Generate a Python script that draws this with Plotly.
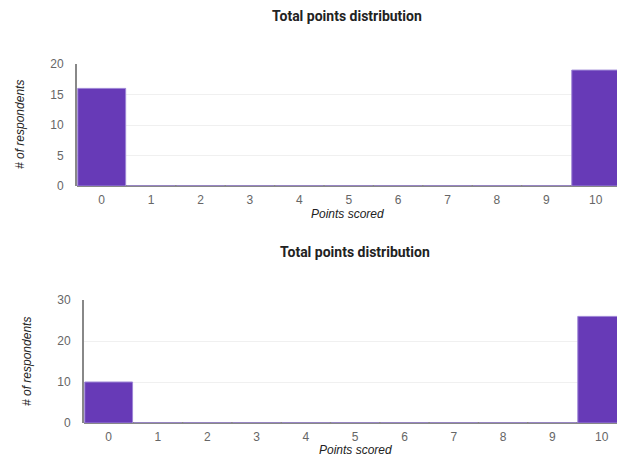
import plotly.graph_objects as go

categories = ["0", "1", "2", "3", "4", "5", "6", "7", "8", "9", "10"]
top_values = [16, 0, 0, 0, 0, 0, 0, 0, 0, 0, 19]
bottom_values = [10, 0, 0, 0, 0, 0, 0, 0, 0, 0, 26]
chart_title = "Total points distribution"
x_title = "Points scored"
y_title = "# of respondents"

W, H = 617, 456
PURPLE = "#673AB7"

def py(y):
    return 1 - y / H

fig = go.Figure()
xs = list(range(len(categories)))
fig.add_trace(go.Bar(x=xs, y=top_values, xaxis="x", yaxis="y",
                     marker=dict(color=PURPLE, line=dict(color="#9d85d6", width=1)),
                     width=0.97, hoverinfo="x+y", showlegend=False))
fig.add_trace(go.Bar(x=xs, y=bottom_values, xaxis="x2", yaxis="y2",
                     marker=dict(color=PURPLE, line=dict(color="#9d85d6", width=1)),
                     width=0.97, hoverinfo="x+y", showlegend=False))

tickfont = dict(family="Arial, Liberation Sans, sans-serif", size=12, color="#666666")
common_x = dict(tickmode="array", tickvals=xs, ticktext=categories, tickfont=tickfont,
                showgrid=False, zeroline=False, showline=False, ticks="outside",
                ticklen=3, tickcolor="rgba(0,0,0,0)",
                automargin=False, fixedrange=True)
common_y = dict(tickfont=tickfont, showgrid=True, gridcolor="#f0f0f0", gridwidth=1,
                zeroline=True, zerolinecolor="#888888", zerolinewidth=2,
                showline=True, linecolor="#888888", linewidth=2,
                ticks="outside", ticklen=9, tickcolor="rgba(0,0,0,0)",
                automargin=False, fixedrange=True)

fig.update_layout(
    width=W, height=H,
    margin=dict(l=0, r=0, t=0, b=0, pad=0),
    paper_bgcolor="white", plot_bgcolor="white",
    bargap=0.02,
    xaxis=dict(common_x, domain=[77 / W, 1], range=[-0.5, 10.43], anchor="y"),
    yaxis=dict(common_y, domain=[py(186), py(64)], range=[0, 20], dtick=5, anchor="x"),
    xaxis2=dict(common_x, domain=[84 / W, 1], range=[-0.5, 10.31], anchor="y2"),
    yaxis2=dict(common_y, domain=[py(423), py(300)], range=[0, 30], dtick=10, anchor="x2"),
)

title_font = dict(family="Roboto, sans-serif", size=14, color="#222222")
axis_title_font = dict(family="Arial, Liberation Sans, sans-serif", size=12, color="#222222")

annotations = [
    dict(text="<b>" + chart_title + "</b>", x=347 / W, y=py(16), xref="paper", yref="paper",
         showarrow=False, font=title_font, xanchor="center", yanchor="middle"),
    dict(text="<b>" + chart_title + "</b>", x=355 / W, y=py(252), xref="paper", yref="paper",
         showarrow=False, font=title_font, xanchor="center", yanchor="middle"),
    dict(text="<i>" + x_title + "</i>", x=347 / W, y=py(214), xref="paper", yref="paper",
         showarrow=False, font=axis_title_font, xanchor="center", yanchor="middle"),
    dict(text="<i>" + x_title + "</i>", x=355 / W, y=py(450), xref="paper", yref="paper",
         showarrow=False, font=axis_title_font, xanchor="center", yanchor="middle"),
    dict(text="<i>" + y_title + "</i>", x=20 / W, y=py(125), xref="paper", yref="paper",
         showarrow=False, font=axis_title_font, textangle=-90, xanchor="center", yanchor="middle"),
    dict(text="<i>" + y_title + "</i>", x=27 / W, y=py(362), xref="paper", yref="paper",
         showarrow=False, font=axis_title_font, textangle=-90, xanchor="center", yanchor="middle"),
]
fig.update_layout(annotations=annotations)

fig.write_html("out.html", config={"displayModeBar": False},
               post_script="document.body.style.margin='0';document.body.style.overflow='hidden';")
